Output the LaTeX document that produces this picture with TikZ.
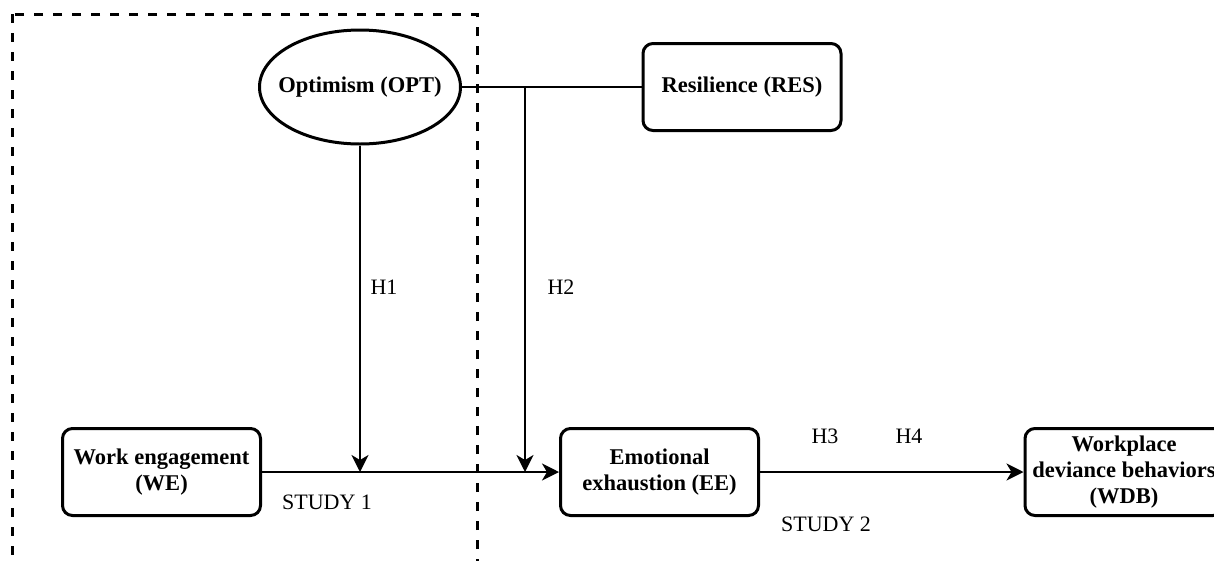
\documentclass[tikz,border=0pt]{standalone}
\usepackage{fontspec}
\setmainfont{Liberation Serif}
\usetikzlibrary{arrows.meta,shapes.geometric}
\tikzset{
  box/.style={draw, line width=3pt, rounded corners=10pt, minimum width=198pt, minimum height=87pt,
    align=center, inner sep=0pt, font=\bfseries\fontsize{22.5}{26}\selectfont},
  oval/.style={draw, ellipse, line width=3pt, minimum width=201pt, minimum height=114pt,
    inner xsep=-14pt, inner ysep=0pt, font=\bfseries\fontsize{22.5}{26}\selectfont},
  conn/.style={line width=2.5pt},
  arr/.style={conn, -{Stealth[length=17pt,width=17pt,inset=5pt]}},
  lbl/.style={inner sep=0pt, font=\fontsize{22}{26}\selectfont},
  studyframe/.style={draw, dash pattern=on 9pt off 10pt, line width=3pt}
}
\begin{document}
\begin{tikzpicture}[x=1pt,y=-1pt]
\useasboundingbox (0,0) rectangle (1214,560);
\clip (0,0) rectangle (1214,560);
\fill[white] (0,0) rectangle (1214,560);
% study 1 frame
\draw[studyframe] (12,14) rectangle (477,562);
% nodes
\node[oval] (opt) at (360,87) {Optimism (OPT)};
\node[box] (res) at (742,87) {Resilience (RES)};
\node[box] (we) at (161.5,472) {Work engagement\\(WE)};
\node[box] (ee) at (659.5,472) {Emotional\\exhaustion (EE)};
\node[box] (wdb) at (1124,472) {Workplace\\deviance behaviors\\(WDB)};
% connectors
\coordinate (J) at (525,87);
\coordinate (h2end) at (J |- we.east);
\coordinate (h1end) at (opt.south |- we.east);
\draw[conn] (opt.east) -- (res.west);
\draw[arr] (J) -- (h2end);
\draw[arr] (opt.south) -- (h1end);
\draw[arr] (we.east) -- (ee.west);
\draw[arr] (ee.east) -- (wdb.west);
% labels
\node[lbl] (h1) at (384,287) {H1};
\node[lbl] (h2) at (561,287) {H2};
\node[lbl] (h3) at (825,436) {H3};
\node[lbl] (h4) at (909,436) {H4};
\node[lbl] (s1) at (327,502) {STUDY 1};
\node[lbl] (s2) at (826,524) {STUDY 2};
\end{tikzpicture}
\end{document}
